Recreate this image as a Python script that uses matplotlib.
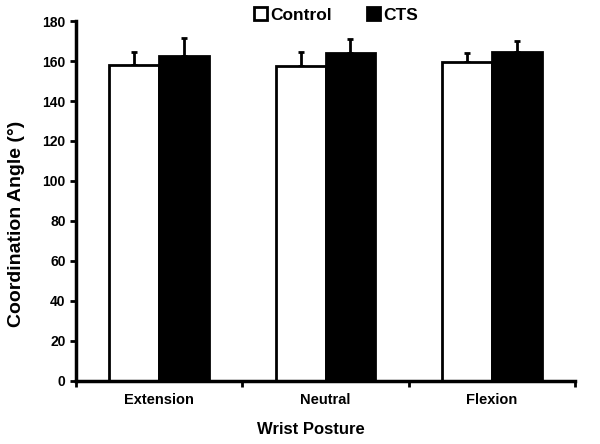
import matplotlib
matplotlib.use("Agg")
import matplotlib.pyplot as plt
import numpy as np

plt.rcParams['font.family'] = ['Liberation Sans', 'DejaVu Sans']
plt.rcParams['font.weight'] = 'bold'

postures = ["Extension", "Neutral", "Flexion"]
control = [158.2, 157.7, 159.7]
control_err = [6.5, 6.6, 4.5]
cts = [162.7, 163.8, 164.7]
cts_err = [8.6, 7.0, 5.5]

fig = plt.figure(figsize=(6, 4.44), dpi=100)
ax = fig.add_axes([0.1267, 0.1419, 0.8316, 0.8108])

x = np.arange(len(postures))
w = 0.3
ax.bar(x - w / 2, control, w, color="white", edgecolor="black", linewidth=2,
       label="Control", zorder=2)
ax.bar(x + w / 2, cts, w, color="black", edgecolor="black", linewidth=2,
       label="CTS", zorder=2)
ax.errorbar(x - w / 2, control, yerr=[np.zeros(3), control_err], fmt="none",
            ecolor="black", elinewidth=2, capsize=2.5, capthick=2, zorder=1)
ax.errorbar(x + w / 2, cts, yerr=[np.zeros(3), cts_err], fmt="none",
            ecolor="black", elinewidth=2, capsize=2.5, capthick=2, zorder=1)

ax.set_xlim(-0.5, 2.5)
ax.set_ylim(0, 180)
ax.set_yticks(np.arange(0, 181, 20))
ax.set_xticks(x)
ax.set_xticklabels(postures, fontsize=10.5, fontweight="bold")
ax.set_xticks([-0.5, 0.5, 1.5, 2.5], minor=True)
ax.tick_params(axis="x", which="major", length=0, pad=9)
ax.tick_params(axis="x", which="minor", length=4, width=2, direction="out")
ax.tick_params(axis="y", length=4, width=2, labelsize=10)
for lab in ax.get_yticklabels():
    lab.set_fontweight("bold")

for s in ["top", "right"]:
    ax.spines[s].set_visible(False)
for s in ["left", "bottom"]:
    ax.spines[s].set_linewidth(2.5)

ax.set_xlabel("Wrist Posture", fontsize=12, fontweight="bold")
ax.xaxis.set_label_coords(0.471, -0.115)
ax.set_ylabel("Coordination Angle (°)", fontsize=14, fontweight="bold")
ax.yaxis.set_label_coords(-0.102, 0.436)

ax.legend(loc="center", bbox_to_anchor=(0.521, 1.017), ncol=2, frameon=False,
          fontsize=12.5, handlelength=0.75, handleheight=0.75, handletextpad=0.2,
          columnspacing=2.0, borderaxespad=0, borderpad=0)

fig.savefig("out.png", dpi=100)
